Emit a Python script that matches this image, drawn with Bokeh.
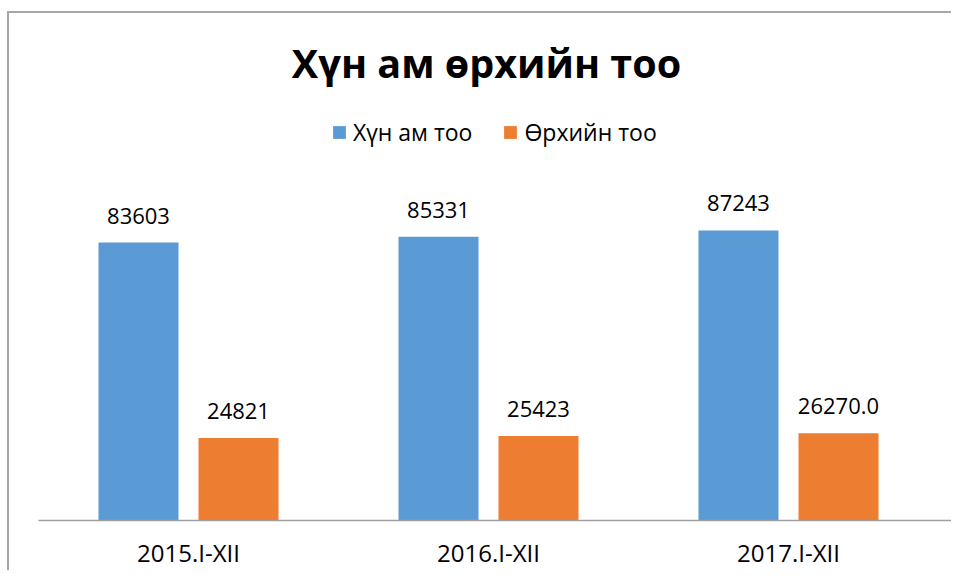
from bokeh.plotting import figure
from bokeh.models import ColumnDataSource, Range1d, Legend, LegendItem, LabelSet, Label, FixedTicker
from bokeh.transform import dodge
from bokeh.core.properties import value
from bokeh.embed import file_html
from bokeh.resources import INLINE

categories = ["2015.I-XII", "2016.I-XII", "2017.I-XII"]
population = [83603, 85331, 87243]
households = [24821, 25423, 26270.0]
population_labels = ["83603", "85331", "87243"]
household_labels = ["24821", "25423", "26270.0"]
series_names = ["Хүн ам тоо", "Өрхийн тоо"]
title_text = "Хүн ам өрхийн тоо"

FONT = "Open Sans"
BLUE = "#5B9BD5"
ORANGE = "#ED7D31"
Y_TOP = 152500  # axis range end, leaves room for title and legend inside the frame
X_END = 2.55    # axis line runs on to the right edge, as in the reference

positions = list(range(len(categories)))
src = ColumnDataSource(dict(x=positions, cat=categories, pop=population, hh=households,
                            pop_lbl=population_labels, hh_lbl=household_labels))

p = figure(x_range=Range1d(-0.5, X_END), y_range=Range1d(0, Y_TOP),
           width=944, height=559, output_backend="svg", toolbar_location=None,
           min_border_left=29, min_border_right=0, min_border_top=0, min_border_bottom=52,
           margin=(11, 0, 0, 7),
           styles={"border-left": "2px solid #A6A6A6", "border-top": "2px solid #A6A6A6"})

p.outline_line_color = None
p.xgrid.visible = False
p.ygrid.visible = False
p.yaxis.visible = False
p.background_fill_color = "white"
p.border_fill_color = "white"

r1 = p.vbar(x=dodge("x", -1/6), top="pop", width=0.2667, source=src,
            fill_color=BLUE, line_color=None)
r2 = p.vbar(x=dodge("x", 1/6), top="hh", width=0.2667, source=src,
            fill_color=ORANGE, line_color=None)

for xoff, col, lbl in [(-1/6, "pop", "pop_lbl"), (1/6, "hh", "hh_lbl")]:
    ls = LabelSet(x=dodge("x", xoff), y=col, text=lbl, source=src,
                  text_align="center", text_baseline="alphabetic", y_offset=19,
                  text_font=value(FONT), text_font_size=value("22px"),
                  text_color="#000000")
    p.add_layout(ls)

ax = p.xaxis[0]
ax.ticker = FixedTicker(ticks=positions)
ax.major_label_overrides = {i: c for i, c in zip(positions, categories)}
ax.axis_line_color = "#A0A0A0"
ax.axis_line_width = 1.5
ax.major_tick_line_color = None
ax.minor_tick_line_color = None
ax.major_label_text_font = FONT
ax.major_label_text_font_size = "24px"
ax.major_label_text_color = "#000000"
ax.major_label_standoff = 9

legend = Legend(items=[LegendItem(label=series_names[0], renderers=[r1]),
                       LegendItem(label=series_names[1], renderers=[r2])],
                orientation="horizontal", location=(293, 372),
                glyph_width=16, glyph_height=16, label_standoff=6, spacing=30,
                label_text_font=FONT, label_text_font_size="23px", label_text_color="#000000",
                border_line_color=None, background_fill_alpha=0, padding=0, margin=0)
p.add_layout(legend)

title = Label(x=448, y=458, x_units="screen", y_units="screen", text=title_text,
              text_align="center", text_baseline="middle", text_font=FONT,
              text_font_size="39.5px", text_font_style="bold", text_color="#000000")
p.add_layout(title)

open("out.html", "w").write(file_html(p, INLINE))
